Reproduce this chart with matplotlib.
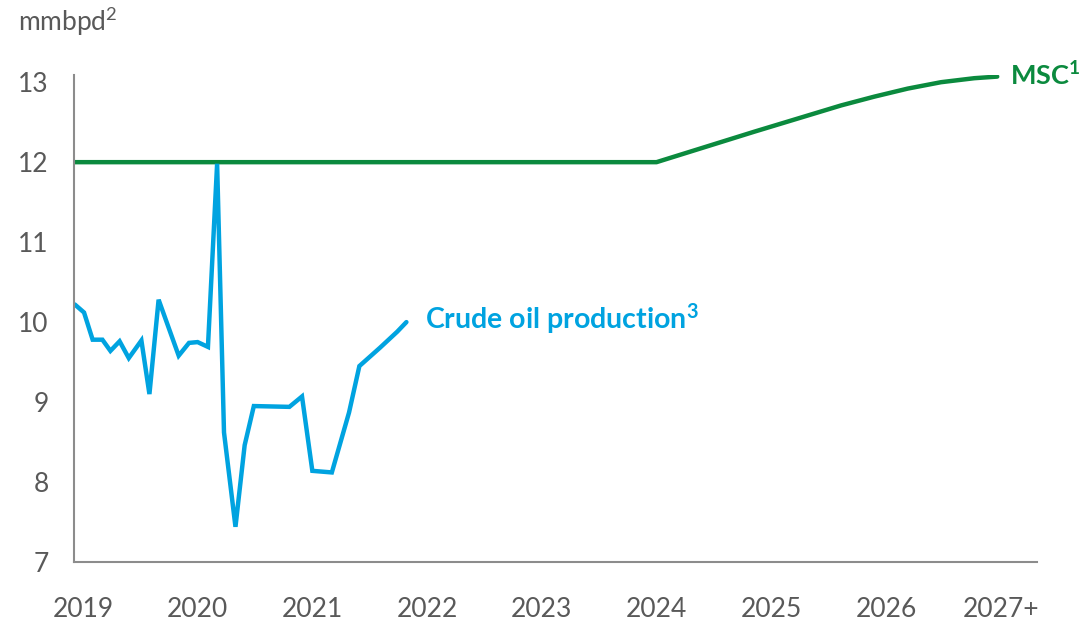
import matplotlib.pyplot as plt

plt.rcParams['font.family'] = ['Lato', 'DejaVu Sans']
plt.rcParams['mathtext.fontset'] = 'custom'
plt.rcParams['mathtext.rm'] = 'Lato'
plt.rcParams['mathtext.bf'] = 'Lato:bold'

# crude oil production, mmbpd (x in fractional years)
crude_x = [2018.93, 2019.01, 2019.085, 2019.17, 2019.24, 2019.32, 2019.40, 2019.51,
           2019.58, 2019.66, 2019.835, 2019.925, 2020.00, 2020.09, 2020.17, 2020.23,
           2020.33, 2020.41, 2020.49, 2020.80, 2020.91, 2021.00, 2021.17, 2021.32,
           2021.41, 2021.59, 2021.74, 2021.82]
crude_y = [10.22, 10.12, 9.78, 9.78, 9.64, 9.76, 9.55, 9.77,
           9.10, 10.28, 9.58, 9.74, 9.75, 9.69, 11.98, 8.62,
           7.44, 8.46, 8.95, 8.94, 9.07, 8.14, 8.12, 8.87,
           9.45, 9.68, 9.88, 10.00]

# maximum sustainable capacity
msc_x = [2018.93, 2024.0, 2024.85, 2025.61, 2025.90, 2026.19, 2026.48, 2026.77, 2026.97]
msc_y = [12.0, 12.0, 12.38, 12.71, 12.82, 12.92, 13.00, 13.05, 13.07]

years = [2019, 2020, 2021, 2022, 2023, 2024, 2025, 2026, 2027]
year_labels = ['2019', '2020', '2021', '2022', '2023', '2024', '2025', '2026', '2027+']
yticks = [7, 8, 9, 10, 11, 12, 13]

grey = '#595959'
blue = '#00A3E0'
green = '#0B8A3E'

fig = plt.figure(figsize=(10.84, 6.25), dpi=100)
ax = fig.add_axes([0.068, 0.1008, 0.889, 0.7792])

ax.plot(msc_x, msc_y, color=green, lw=3.2, solid_capstyle='round',
        solid_joinstyle='round')
ax.plot(crude_x, crude_y, color=blue, lw=3.2, solid_capstyle='round',
        solid_joinstyle='miter')

ax.set_xlim(2018.92, 2027.32)
ax.set_ylim(7, 13.09)
ax.set_xticks(years)
ax.set_xticklabels(year_labels)
ax.set_yticks(yticks)
ax.tick_params(length=0, labelsize=19, colors=grey)
ax.tick_params(axis='x', pad=25)
ax.tick_params(axis='y', pad=18)

for s in ['top', 'right']:
    ax.spines[s].set_visible(False)
for s in ['left', 'bottom']:
    ax.spines[s].set_color('#8c8c8c')
    ax.spines[s].set_linewidth(1.5)

ax.text(2021.98, 10.05, r'Crude oil production$\mathbf{^3}$', color=blue, fontsize=20.5,
        fontweight='bold', va='center', ha='left')
ax.text(2027.08, 13.09, r'MSC$\mathbf{^1}$', color=green, fontsize=19.5,
        fontweight='bold', va='center', ha='left', clip_on=False)

fig.text(0.017, 0.965, r'mmbpd$\mathrm{^2}$', color=grey, fontsize=19, va='center', ha='left')

fig.savefig('out.png', dpi=100)
